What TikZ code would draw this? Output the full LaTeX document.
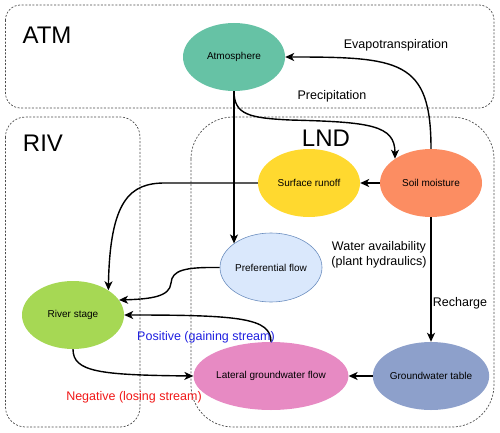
\documentclass[tikz,border=0pt]{standalone}
\usepackage{fontspec}
\setmainfont{Liberation Sans}
\usetikzlibrary{arrows.meta,shapes.geometric}
\definecolor{catm}{HTML}{66C2A5}
\definecolor{crun}{HTML}{FFD92F}
\definecolor{csoil}{HTML}{FC8D62}
\definecolor{cpref}{HTML}{DAE8FC}
\definecolor{cprefd}{HTML}{6C8EBF}
\definecolor{criv}{HTML}{A6D854}
\definecolor{clat}{HTML}{E78AC3}
\definecolor{cgw}{HTML}{8DA0CB}
\definecolor{cpos}{HTML}{1F1FE0}
\definecolor{cneg}{HTML}{F01818}
\begin{document}
\begin{tikzpicture}[x=1pt,y=-1pt,
  region/.style={draw=black!70, dash pattern=on 2pt off 1.6pt, line width=0.7pt},
  proc/.style={ellipse, inner sep=0pt, minimum width=102pt, minimum height=68pt,
    font=\fontsize{10}{12}\selectfont},
  flow/.style={line width=1.4pt, -{Stealth[length=9pt,width=8pt,inset=2.5pt]}},
  lbl/.style={font=\fontsize{12.5}{15}\selectfont, align=center, inner sep=0pt},
  big/.style={font=\fontsize{24}{28}\selectfont, inner sep=0pt}]
\useasboundingbox (0,0) rectangle (500,433);
% regions
\draw[region, rounded corners=15pt] (5.5,5) rectangle (494,108);
\draw[region, rounded corners=20pt] (5.5,117) rectangle (140,427);
\draw[region, rounded corners=42pt] (191,117) rectangle (494,427);
\node[big] (tatm) at (47,35) {ATM};
\node[big] (triv) at (43,143) {RIV};
\node[big] (tlnd) at (326,138) {LND};
% nodes
\node[proc, fill=catm] (atm) at (234,57) {Atmosphere};
\node[proc, fill=crun] (run) at (309,183) {Surface runoff};
\node[proc, fill=csoil] (soil) at (431,183) {Soil moisture};
\node[proc, fill=cpref, draw=cprefd, line width=0.6pt, minimum height=69pt] (pref) at (271,267.5) {Preferential flow};
\node[proc, fill=criv] (rs) at (73,315) {River stage};
\node[proc, fill=clat, minimum width=118pt] (lat) at (271,376) {Lateral groundwater flow};
\node[proc, fill=cgw] (gw) at (431,376) {Groundwater table};
% connectors
\draw[flow] (soil.north) .. controls (431,60) and (400,57) .. (atm.east);
\draw[flow] (atm.south) .. controls (234,115) and (250,118) .. (290,120)
  .. controls (370,122) and (395,125) .. (soil.146);
\draw[flow] (atm.south) -- (atm.south |- pref.147);
\draw[flow] (soil.west) -- (run.east);
\draw[flow] (run.west) -- (165,183) .. controls (130,183) and (110,200) .. (rs.35);
\draw[flow] (pref.west) .. controls (185,267) and (172,270) .. (171,283)
  .. controls (170,297) and (150,299) .. (rs.18);
\draw[flow] (lat.north) .. controls (271,318) and (240,315) .. (rs.east);
\draw[flow] (rs.south) .. controls (73,372) and (100,375) .. (lat.west);
\draw[flow] (gw.west) -- (lat.east);
\draw[flow] (soil.south) -- (gw.north);
% labels
\node[lbl] (let) at (396,45) {Evapotranspiration};
\node[lbl] (lpr) at (332,96) {Precipitation};
\node[lbl] (lwa) at (379,255) {Water availability\\(plant hydraulics)};
\node[lbl] (lre) at (460,303) {Recharge};
\node[lbl, text=cpos] (lpos) at (206,337) {Positive (gaining stream)};
\node[lbl, text=cneg] (lneg) at (134,397) {Negative (losing stream)};
\end{tikzpicture}
\end{document}
